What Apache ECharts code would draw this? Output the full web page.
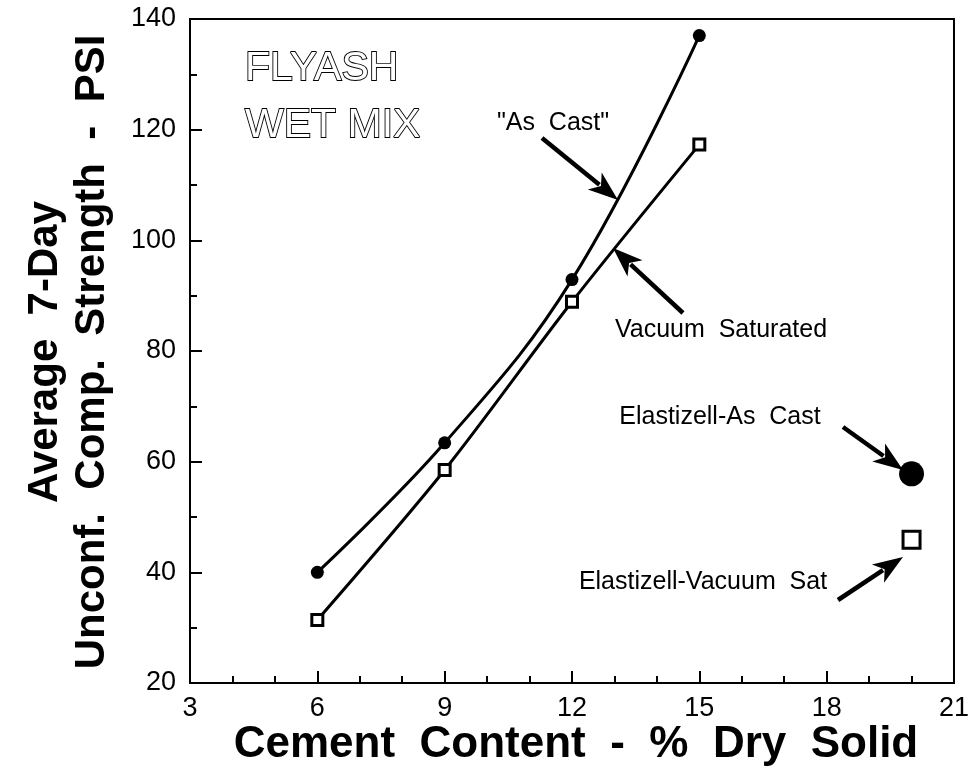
<!DOCTYPE html>
<html>
<head>
<meta charset="utf-8">
<script src="https://cdn.jsdelivr.net/npm/echarts@6/dist/echarts.min.js"></script>
<style>
  html, body { margin: 0; padding: 0; background: #fff; }
  #chart { width: 972px; height: 777px; }
</style>
</head>
<body>
<div id="chart"></div>
<script>
// cement content (% dry solid)
const cement = [6, 9, 12, 15]
const asCast = [40, 63.4, 92.9, 137]
const vacSat = [31.4, 58.5, 88.9, 117.3]
// elastizell points
const elastX = 20
const elastAsCast = 57.8
const elastVacSat = 45.9

const font = 'Liberation Sans'

const chart = echarts.init(document.getElementById('chart'))

// annotation arrows, [from, to] in pixels
const arrows = [
  [[542, 138], [618, 200]],
  [[683, 313], [613, 248]],
  [[843, 427], [903, 470]],
  [[838, 600], [903, 557]]
]

function arrow(a) {
  const [p0, p1] = a
  const dx = p1[0] - p0[0], dy = p1[1] - p0[1]
  const len = Math.sqrt(dx * dx + dy * dy)
  const ux = dx / len, uy = dy / len
  const hl = 30, hw = 11
  const bx = p1[0] - ux * hl, by = p1[1] - uy * hl
  return [
    {
      type: 'polyline',
      shape: { points: [p0, [bx + ux * 6, by + uy * 6]] },
      style: { stroke: '#000', lineWidth: 4.5 }
    },
    {
      type: 'polygon',
      shape: { points: [p1, [bx - uy * hw, by + ux * hw], [bx + ux * 8, by + uy * 8], [bx + uy * hw, by - ux * hw]] },
      style: { fill: '#000' }
    }
  ]
}

const labelStyle = { fontFamily: font, fontSize: 25, fill: '#000' }

const option = {
  animation: false,
  backgroundColor: '#fff',
  grid: {
    left: 190,
    right: 16,
    top: 19,
    bottom: 94,
    show: true,
    borderColor: '#000',
    borderWidth: 2
  },
  xAxis: {
    type: 'value',
    min: 3,
    max: 21,
    interval: 3,
    axisLine: { lineStyle: { color: '#000', width: 2 } },
    axisTick: { inside: true, length: 12, lineStyle: { color: '#000', width: 2 } },
    minorTick: { show: true, splitNumber: 3, length: 7, lineStyle: { color: '#000', width: 2 } },
    axisLabel: { color: '#000', fontFamily: font, fontSize: 27, margin: 12 },
    splitLine: { show: false }
  },
  yAxis: {
    type: 'value',
    min: 20,
    max: 140,
    interval: 20,
    axisLine: { lineStyle: { color: '#000', width: 2 } },
    axisTick: { inside: true, length: 12, lineStyle: { color: '#000', width: 2 } },
    minorTick: { show: true, splitNumber: 2, length: 7, lineStyle: { color: '#000', width: 2 } },
    axisLabel: { color: '#000', fontFamily: font, fontSize: 27, margin: 14 },
    splitLine: { show: false }
  },
  series: [
    {
      name: 'As Cast',
      type: 'line',
      smooth: 0.4,
      data: cement.map((c, i) => [c, asCast[i]]),
      symbol: 'circle',
      symbolSize: 13,
      itemStyle: { color: '#000' },
      lineStyle: { color: '#000', width: 3 }
    },
    {
      name: 'Vacuum Saturated',
      type: 'line',
      smooth: 0.3,
      data: cement.map((c, i) => [c, vacSat[i]]),
      symbol: 'rect',
      symbolSize: 11,
      itemStyle: { color: '#fff', borderColor: '#000', borderWidth: 3 },
      lineStyle: { color: '#000', width: 3 }
    },
    {
      name: 'Elastizell-As Cast',
      type: 'scatter',
      data: [[elastX, elastAsCast]],
      symbol: 'circle',
      symbolSize: 25,
      itemStyle: { color: '#000', opacity: 1 }
    },
    {
      name: 'Elastizell-Vacuum Sat',
      type: 'scatter',
      data: [[elastX, elastVacSat]],
      symbol: 'rect',
      symbolSize: 17,
      itemStyle: { color: '#fff', borderColor: '#000', borderWidth: 3, opacity: 1 }
    }
  ],
  graphic: [
    {
      type: 'text', x: 245, y: 69,
      style: { text: 'FLYASH', fontFamily: font, fontSize: 41, fill: '#fff', stroke: '#000', lineWidth: 1.8, verticalAlign: 'middle' }
    },
    {
      type: 'text', x: 245, y: 126,
      style: { text: 'WET MIX', fontFamily: font, fontSize: 41, fill: '#fff', stroke: '#000', lineWidth: 1.8, verticalAlign: 'middle' }
    },
    { type: 'text', x: 553, y: 123, style: Object.assign({ text: '"As  Cast"', align: 'center', verticalAlign: 'middle' }, labelStyle) },
    { type: 'text', x: 721, y: 330, style: Object.assign({ text: 'Vacuum  Saturated', align: 'center', verticalAlign: 'middle' }, labelStyle) },
    { type: 'text', x: 720, y: 417, style: Object.assign({ text: 'Elastizell-As  Cast', align: 'center', verticalAlign: 'middle' }, labelStyle) },
    { type: 'text', x: 703, y: 582, style: Object.assign({ text: 'Elastizell-Vacuum  Sat', align: 'center', verticalAlign: 'middle' }, labelStyle) },
    {
      type: 'text', x: 576, y: 745,
      style: { text: 'Cement  Content  -  %  Dry  Solid', fontFamily: font, fontWeight: 'bold', fontSize: 44, fill: '#000', align: 'center', verticalAlign: 'middle' }
    },
    {
      type: 'text', x: 45, y: 352, rotation: Math.PI / 2,
      style: { text: 'Average  7-Day', fontFamily: font, fontWeight: 'bold', fontSize: 42, fill: '#000', align: 'center', verticalAlign: 'middle' }
    },
    {
      type: 'text', x: 92, y: 352, rotation: Math.PI / 2,
      style: { text: 'Unconf.  Comp.  Strength  -  PSI', fontFamily: font, fontWeight: 'bold', fontSize: 42, fill: '#000', align: 'center', verticalAlign: 'middle' }
    }
  ].concat(...arrows.map(arrow))
}

chart.setOption(option)
</script>
</body>
</html>
